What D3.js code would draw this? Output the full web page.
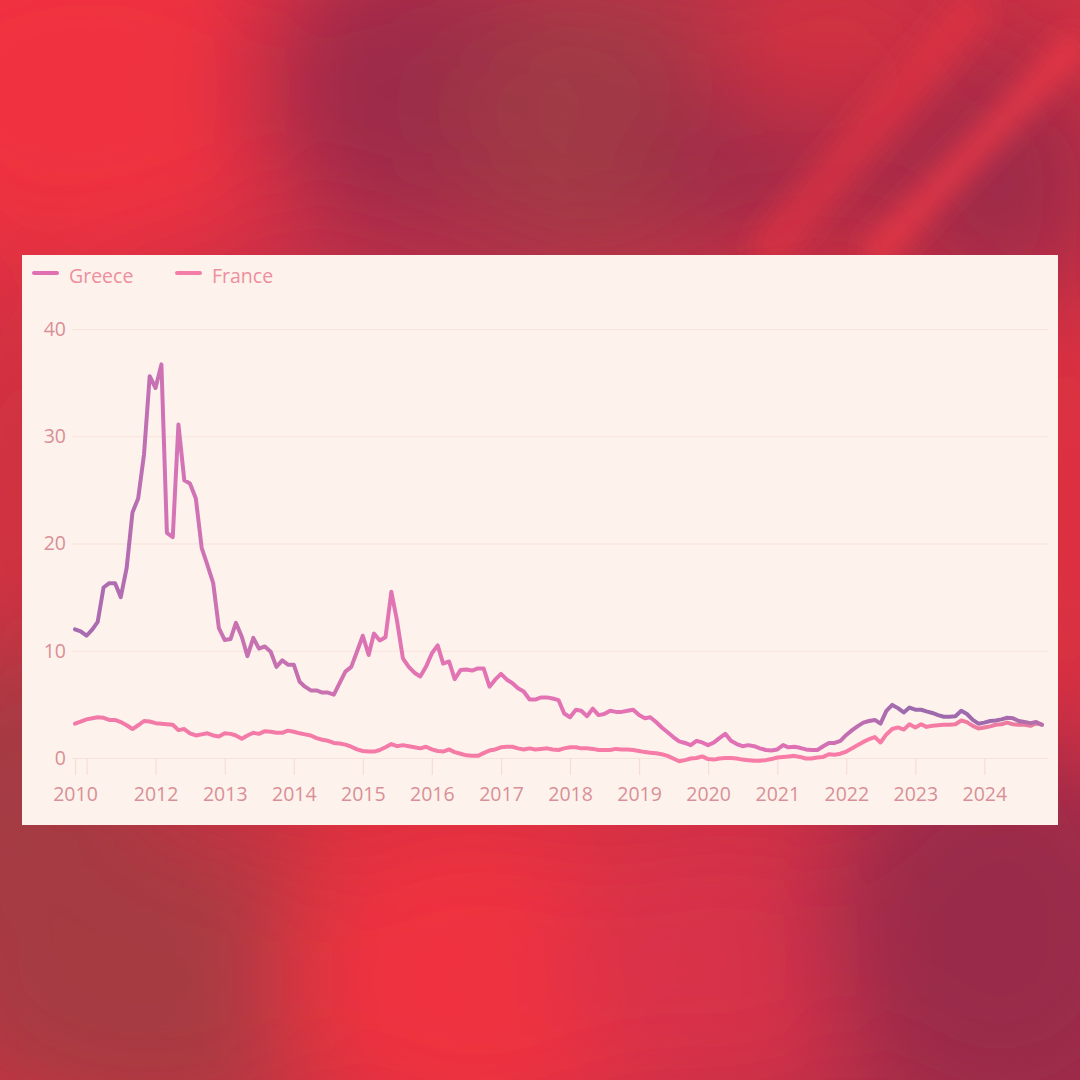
<!DOCTYPE html>
<html>
<head>
<meta charset="utf-8">
<script src="https://cdn.jsdelivr.net/npm/d3@7"></script>
<style>
  html, body { margin: 0; padding: 0; background: #d8303f; }
  svg { display: block; }
  text { font-family: "Open Sans", "DejaVu Sans", sans-serif; }
</style>
</head>
<body>
<svg id="chart" width="1080" height="1080"></svg>
<script>
// ---------- DATA ----------
const seriesNames = ["Greece", "France"];
const startMonth = "2010-11";
const endMonth = "2024-11";

const greeceValues = [
  12.0, 11.8, 11.4, 12.0, 12.7, 15.9, 16.3, 16.3, 15.0, 17.7, 22.9, 24.2, 28.3, 35.6, 34.5, 36.7,
  21.0, 20.6, 31.1, 25.9, 25.6, 24.2, 19.6, 18.0, 16.3, 12.1, 11.0,
  11.1, 12.6, 11.3, 9.5, 11.2, 10.2, 10.4, 9.9, 8.5, 9.1, 8.7, 8.7, 7.1, 6.65, 6.3, 6.3, 6.1, 6.1,
  5.9, 7.0, 8.05, 8.5, 9.9, 11.4, 9.6, 11.6, 10.95, 11.25, 15.5, 12.8, 9.3,
  8.5, 7.95, 7.6, 8.5, 9.75, 10.5, 8.8, 9.0, 7.35, 8.2, 8.25, 8.15, 8.35, 8.35, 6.65, 7.3, 7.85,
  7.3, 7.0, 6.5, 6.2, 5.45, 5.45, 5.65, 5.65, 5.55, 5.4, 4.15, 3.8, 4.5, 4.4, 3.9, 4.6, 4.0,
  4.1, 4.4, 4.3, 4.3, 4.4, 4.5, 4.0, 3.7, 3.8, 3.35, 2.85, 2.4, 1.95, 1.55, 1.4, 1.2, 1.6, 1.45,
  1.2, 1.45, 1.85, 2.25, 1.6, 1.3, 1.1, 1.2, 1.1, 0.9, 0.75, 0.7, 0.8, 1.2, 1.0, 1.05, 0.95, 0.8,
  0.75, 0.75, 1.1, 1.4, 1.4,
  1.6, 2.15, 2.6, 2.95, 3.3, 3.45, 3.55, 3.2, 4.4, 4.95, 4.65, 4.25, 4.7, 4.5, 4.5, 4.35, 4.2,
  4.0, 3.85, 3.85, 3.9, 4.4, 4.1, 3.55, 3.2, 3.3, 3.45, 3.5, 3.6, 3.75, 3.7, 3.45, 3.35, 3.25,
  3.35, 3.1
];

const franceValues = [
  3.2, 3.4, 3.6, 3.7, 3.8, 3.75, 3.55, 3.55, 3.35, 3.05, 2.7, 3.05, 3.45, 3.4, 3.25, 3.2, 3.15,
  3.1, 2.6, 2.7, 2.3, 2.1, 2.2, 2.3, 2.1, 2.0, 2.3, 2.25, 2.1, 1.8, 2.1, 2.35, 2.25, 2.5, 2.45,
  2.35, 2.35, 2.55, 2.45, 2.3, 2.2, 2.1, 1.85, 1.7, 1.6, 1.4, 1.35, 1.25, 1.05, 0.8, 0.65, 0.6,
  0.6, 0.75, 1.0, 1.3, 1.1, 1.2, 1.1, 1.0, 0.9, 1.05, 0.8, 0.65, 0.6, 0.8, 0.55, 0.4, 0.25, 0.2,
  0.2, 0.45, 0.7, 0.8, 1.0, 1.05, 1.05, 0.9, 0.8, 0.9, 0.8, 0.85, 0.9, 0.8, 0.75, 0.9, 1.0, 1.0,
  0.9, 0.9, 0.85, 0.75, 0.75, 0.75, 0.85, 0.8, 0.8, 0.75, 0.65, 0.55, 0.5, 0.45, 0.35, 0.2,
  -0.05, -0.3, -0.2, -0.05, 0.0, 0.15, -0.1, -0.15, -0.05, 0.0, 0.0, -0.05, -0.15, -0.2, -0.25,
  -0.25, -0.2, -0.1, 0.05, 0.1, 0.15, 0.2, 0.1, -0.05, -0.05, 0.05, 0.1, 0.35, 0.3, 0.4, 0.6,
  0.9, 1.2, 1.5, 1.75, 1.95, 1.45, 2.2, 2.7, 2.85, 2.65, 3.15, 2.85, 3.15, 2.9, 3.0, 3.05, 3.1,
  3.1, 3.15, 3.5, 3.35, 3.0, 2.75, 2.85, 2.95, 3.1, 3.15, 3.3, 3.15, 3.1, 3.1, 3.0, 3.25, 3.1
];

const yTicks = [0, 10, 20, 30, 40];
const xTickDates = ["2010-11", "2011-01", "2012-01", "2013-01", "2014-01", "2015-01", "2016-01",
  "2017-01", "2018-01", "2019-01", "2020-01", "2021-01", "2022-01", "2023-01", "2024-01"];
const xTickLabels = ["2010", "", "2012", "2013", "2014", "2015", "2016", "2017", "2018", "2019",
  "2020", "2021", "2022", "2023", "2024"];

// ---------- SETUP ----------
const parseMonth = d3.timeParse("%Y-%m");
const months = d3.timeMonth.range(parseMonth(startMonth), d3.timeMonth.offset(parseMonth(endMonth), 1));
const greece = months.map((d, i) => ({ date: d, v: greeceValues[i] })).filter(d => d.v != null);
const france = months.map((d, i) => ({ date: d, v: franceValues[i] })).filter(d => d.v != null);

const svg = d3.select("#chart");
const defs = svg.append("defs");

// ---------- BACKGROUND ----------
const bgGrad = defs.append("linearGradient").attr("id", "bgBase")
  .attr("x1", "0").attr("y1", "0").attr("x2", "1").attr("y2", "1");
[[0, "#ec2f40"], [0.35, "#b8304a"], [0.55, "#d8303f"], [0.8, "#c82f45"], [1, "#a02c48"]]
  .forEach(([o, c]) => bgGrad.append("stop").attr("offset", o).attr("stop-color", c));
svg.append("rect").attr("width", 1080).attr("height", 1080).attr("fill", "url(#bgBase)");

defs.append("filter").attr("id", "blurBig").attr("x", "-50%").attr("y", "-50%")
  .attr("width", "200%").attr("height", "200%")
  .append("feGaussianBlur").attr("stdDeviation", 55);
defs.append("filter").attr("id", "blurSmall").attr("x", "-50%").attr("y", "-50%")
  .attr("width", "200%").attr("height", "200%")
  .append("feGaussianBlur").attr("stdDeviation", 14);

const blobs = [
  { cx: 90, cy: 90, rx: 230, ry: 170, c: "#f0303f" },
  { cx: 420, cy: 90, rx: 170, ry: 150, c: "#9c2b4a" },
  { cx: 600, cy: 120, rx: 140, ry: 140, c: "#a03a44" },
  { cx: 760, cy: 150, rx: 120, ry: 90, c: "#9c2a4a" },
  { cx: 830, cy: 40, rx: 120, ry: 80, c: "#d5303f" },
  { cx: 1000, cy: 180, rx: 120, ry: 140, c: "#9e2c4a" },
  { cx: 20, cy: 500, rx: 80, ry: 250, c: "#d2303f" },
  { cx: 20, cy: 820, rx: 120, ry: 180, c: "#a43a42" },
  { cx: 150, cy: 980, rx: 220, ry: 150, c: "#a63b42" },
  { cx: 480, cy: 980, rx: 200, ry: 160, c: "#f0303f" },
  { cx: 720, cy: 960, rx: 160, ry: 140, c: "#d8304a" },
  { cx: 1000, cy: 930, rx: 180, ry: 200, c: "#9a2a4a" },
  { cx: 1070, cy: 520, rx: 70, ry: 240, c: "#e0303f" }
];
svg.append("g").attr("filter", "url(#blurBig)").selectAll("ellipse").data(blobs).join("ellipse")
  .attr("cx", d => d.cx).attr("cy", d => d.cy).attr("rx", d => d.rx).attr("ry", d => d.ry)
  .attr("fill", d => d.c);
const streaks = svg.append("g").attr("filter", "url(#blurSmall)");
streaks.append("path").attr("d", "M870,260 L1080,40").attr("stroke", "#f23a45")
  .attr("stroke-width", 26).attr("fill", "none").attr("opacity", 0.85);
streaks.append("path").attr("d", "M760,260 L980,0").attr("stroke", "#e8303f")
  .attr("stroke-width", 40).attr("fill", "none").attr("opacity", 0.6);

// ---------- CARD ----------
const card = { x: 22, y: 255, w: 1036, h: 570 };
svg.append("rect").attr("x", card.x).attr("y", card.y).attr("width", card.w).attr("height", card.h)
  .attr("fill", "#fdf3ec");

// ---------- SCALES ----------
const x = d3.scaleTime()
  .domain([parseMonth(startMonth), parseMonth(endMonth)])
  .range([75, 1042]);
const y = d3.scaleLinear().domain([0, 40]).range([758, 329]);

const gridLeft = 72, gridRight = 1048;
const labelColor = "#d98f97";

const yAxis = d3.axisLeft(y).tickValues(yTicks).tickSize(-(gridRight - gridLeft)).tickPadding(6)
  .tickFormat(d3.format("d"));
const yg = svg.append("g").attr("transform", `translate(${gridLeft},0)`).call(yAxis);
yg.select(".domain").remove();
yg.selectAll(".tick line").attr("stroke", "#f9e2dc").attr("stroke-width", 1.2);
yg.selectAll(".tick text").attr("fill", labelColor).attr("font-size", 19.5)
  .attr("font-weight", 500).style("font-family", '"Open Sans", sans-serif');

const xTickParsed = xTickDates.map(parseMonth);
const xAxis = d3.axisBottom(x).tickValues(xTickParsed).tickSize(17)
  .tickFormat((d, i) => xTickLabels[i]);
const xg = svg.append("g").attr("transform", `translate(0,${y(0)})`).call(xAxis);
xg.select(".domain").remove();
xg.selectAll(".tick line").attr("stroke", "#f6ddd8").attr("stroke-width", 1.2);
xg.selectAll(".tick text").attr("fill", labelColor).attr("font-size", 19.5).attr("font-weight", 500)
  .attr("y", 43).attr("dy", 0).style("font-family", '"Open Sans", sans-serif');

// ---------- LINE GRADIENTS ----------
const gGrad = defs.append("linearGradient").attr("id", "greeceGrad")
  .attr("gradientUnits", "userSpaceOnUse").attr("x1", 75).attr("y1", 0).attr("x2", 1042).attr("y2", 0);
[[0, "#a56bb0"], [0.06, "#b66db2"], [0.1, "#d673b6"], [0.16, "#c872b2"], [0.24, "#c470b0"],
 [0.32, "#e274b4"], [0.6, "#e472b4"], [0.76, "#dc70b4"], [0.82, "#b86db0"], [0.86, "#9d6aae"],
 [0.95, "#a06aac"], [1, "#b870ac"]]
  .forEach(([o, c]) => gGrad.append("stop").attr("offset", o).attr("stop-color", c));
const fGrad = defs.append("linearGradient").attr("id", "franceGrad")
  .attr("gradientUnits", "userSpaceOnUse").attr("x1", 75).attr("y1", 0).attr("x2", 1042).attr("y2", 0);
[[0, "#f27aa8"], [0.85, "#f87ca6"], [1, "#e87a9e"]]
  .forEach(([o, c]) => fGrad.append("stop").attr("offset", o).attr("stop-color", c));

const line = d3.line().x(d => x(d.date)).y(d => y(d.v)).curve(d3.curveLinear);

svg.append("path").datum(france).attr("d", line).attr("fill", "none")
  .attr("stroke", "url(#franceGrad)").attr("stroke-width", 4)
  .attr("stroke-linejoin", "round").attr("stroke-linecap", "round");
svg.append("path").datum(greece).attr("d", line).attr("fill", "none")
  .attr("stroke", "url(#greeceGrad)").attr("stroke-width", 4)
  .attr("stroke-linejoin", "round").attr("stroke-linecap", "round");

// ---------- LEGEND ----------
const legendItems = [
  { name: seriesNames[0], color: "#e070b2", x: 34 },
  { name: seriesNames[1], color: "#f47ca8", x: 177 }
];
const lg = svg.append("g");
legendItems.forEach(it => {
  lg.append("line").attr("x1", it.x).attr("x2", it.x + 23).attr("y1", 273).attr("y2", 273)
    .attr("stroke", it.color).attr("stroke-width", 4).attr("stroke-linecap", "round");
  lg.append("text").attr("x", it.x + 35).attr("y", 283).text(it.name)
    .attr("fill", "#ef8e9c").attr("font-size", 19.5).attr("font-weight", 500);
});
</script>
</body>
</html>
